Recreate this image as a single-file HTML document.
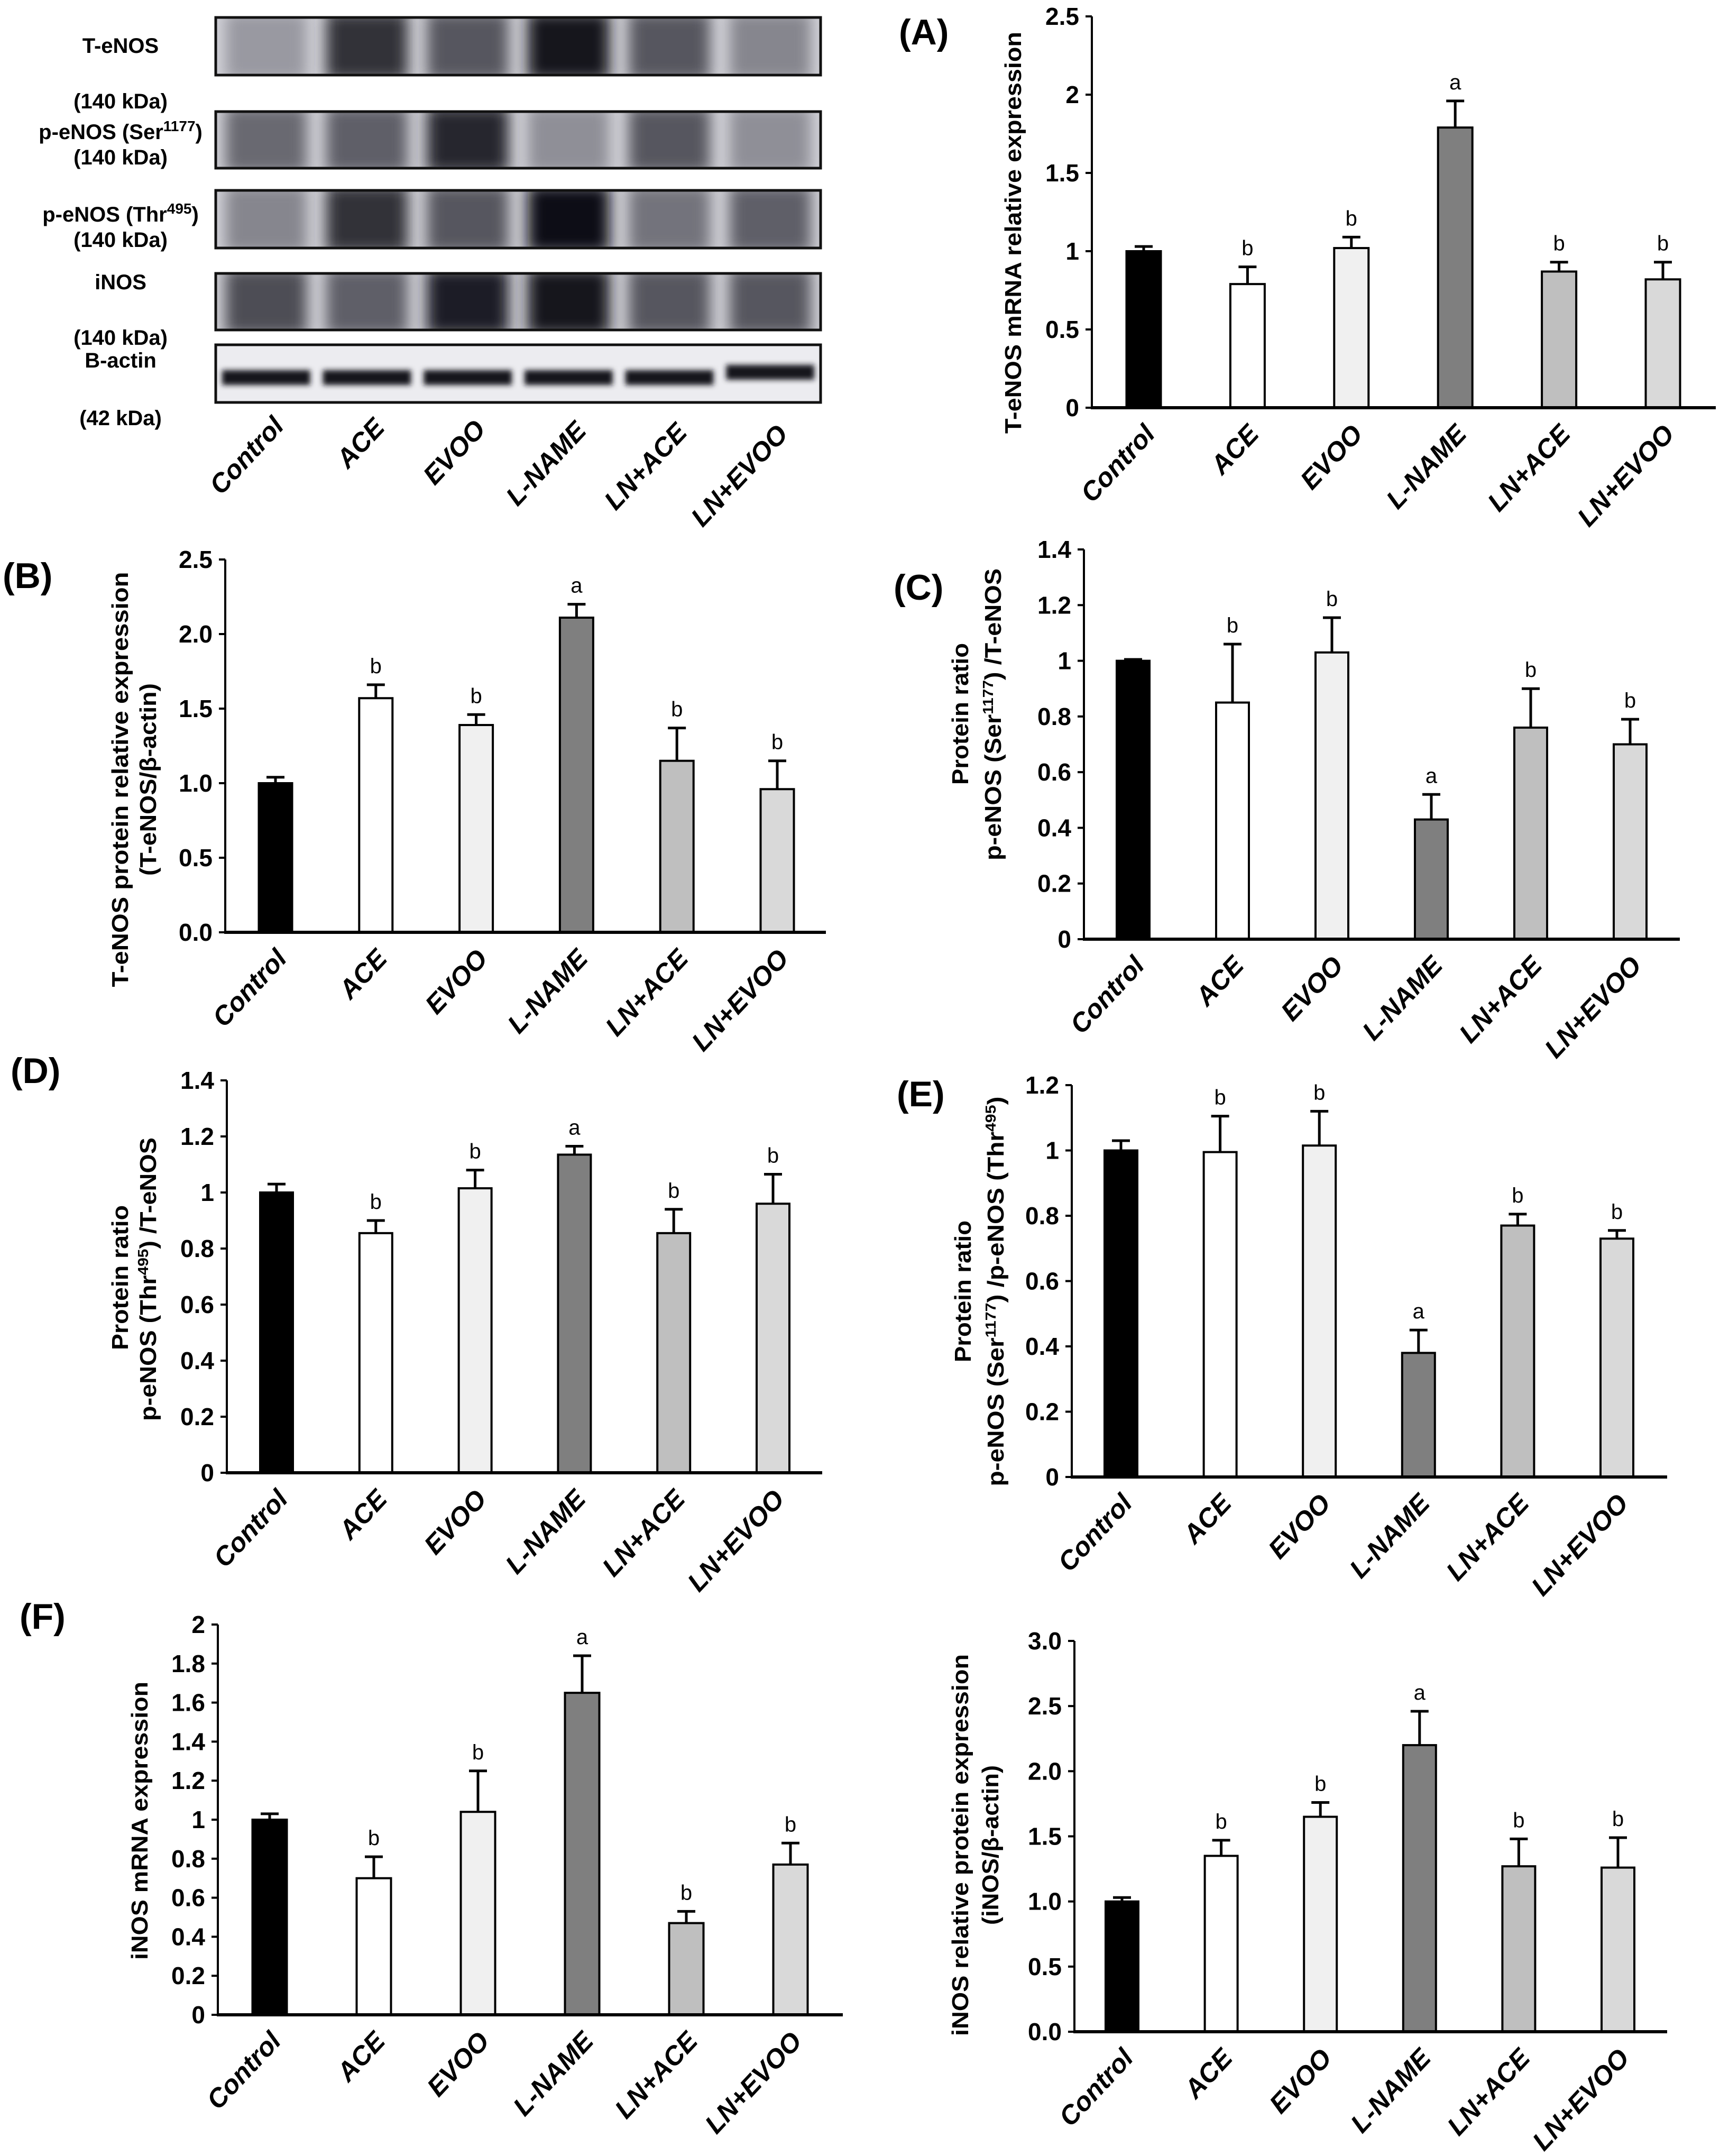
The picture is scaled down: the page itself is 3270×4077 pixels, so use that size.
<!DOCTYPE html>
<html><head><meta charset="utf-8"><style>
html,body{margin:0;padding:0;background:#fff;}
svg{display:block;}
.tick{font-family:"Liberation Sans Narrow","Liberation Sans",sans-serif;font-weight:bold;font-size:46px;font-stretch:condensed;}
.xl{font-family:"Liberation Sans",sans-serif;font-weight:bold;font-style:italic;font-size:50px;}
.yt{font-family:"Liberation Sans",sans-serif;font-weight:bold;font-size:44px;}
.let{font-family:"Liberation Sans Narrow","Liberation Sans",sans-serif;font-size:40px;}
.pl{font-family:"Liberation Sans Narrow","Liberation Sans",sans-serif;font-weight:bold;font-size:68px;}
.wbl{font-family:"Liberation Sans Narrow","Liberation Sans",sans-serif;font-weight:bold;font-size:40px;}
</style></head><body>
<svg id="fig" xmlns="http://www.w3.org/2000/svg" width="3270" height="4077" viewBox="0 0 3270 4077">
<defs>
<filter id="blur" x="-20%" y="-20%" width="140%" height="140%"><feGaussianBlur stdDeviation="14"/></filter>
<filter id="blur2" x="-20%" y="-50%" width="140%" height="200%"><feGaussianBlur stdDeviation="5"/></filter>
</defs>
<g id="wb"></g>
<g id="charts"></g>
</svg>
<script>
const NS="http://www.w3.org/2000/svg";
const groups=["Control","ACE","EVOO","L-NAME","LN+ACE","LN+EVOO"];
const fills=["#000000","#ffffff","#f0f0f0","#7f7f7f","#bfbfbf","#d9d9d9"];

// Panel A: T-eNOS mRNA
const aVals=[1.0,0.79,1.02,1.79,0.87,0.82];
const aErr=[0.03,0.11,0.07,0.17,0.06,0.11];
const aLet=["","b","b","a","b","b"];
const aTicks=["0","0.5","1","1.5","2","2.5"];
// Panel B: T-eNOS protein
const bVals=[1.0,1.57,1.39,2.11,1.15,0.96];
const bErr=[0.04,0.09,0.07,0.09,0.22,0.19];
const bLet=["","b","b","a","b","b"];
const bTicks=["0.0","0.5","1.0","1.5","2.0","2.5"];
// Panel C: pSer/T-eNOS
const cVals=[1.0,0.85,1.03,0.43,0.76,0.70];
const cErr=[0.005,0.21,0.125,0.09,0.14,0.09];
const cLet=["","b","b","a","b","b"];
const cTicks=["0","0.2","0.4","0.6","0.8","1","1.2","1.4"];
// Panel D: pThr/T-eNOS
const dVals=[1.0,0.855,1.015,1.135,0.855,0.96];
const dErr=[0.03,0.045,0.065,0.03,0.085,0.105];
const dLet=["","b","b","a","b","b"];
const dTicks=["0","0.2","0.4","0.6","0.8","1","1.2","1.4"];
// Panel E: pSer/pThr
const eVals=[1.0,0.995,1.015,0.38,0.77,0.73];
const eErr=[0.03,0.11,0.105,0.07,0.035,0.025];
const eLet=["","b","b","a","b","b"];
const eTicks=["0","0.2","0.4","0.6","0.8","1","1.2"];
// Panel F: iNOS mRNA
const fVals=[1.0,0.70,1.04,1.65,0.47,0.77];
const fErr=[0.03,0.11,0.21,0.19,0.06,0.11];
const fLet=["","b","b","a","b","b"];
const fTicks=["0","0.2","0.4","0.6","0.8","1","1.2","1.4","1.6","1.8","2"];
// Panel G: iNOS protein
const gVals=[1.0,1.35,1.65,2.2,1.27,1.26];
const gErr=[0.03,0.12,0.11,0.26,0.21,0.23];
const gLet=["","b","b","a","b","b"];
const gTicks=["0.0","0.5","1.0","1.5","2.0","2.5","3.0"];

function el(tag,attrs,parent){const e=document.createElementNS(NS,tag);for(const k in attrs)e.setAttribute(k,attrs[k]);if(parent)parent.appendChild(e);return e;}

function chart(cfg){
  const root=document.getElementById("charts");
  const g=el("g",{},root);
  
  
  const yScale=v=>cfg.y0-(v/cfg.max)*(cfg.y0-cfg.ytop);
  const n=cfg.ticks.length;
  cfg.ticks.forEach((t,i)=>{
    const v=cfg.max*i/(n-1);const y=yScale(v);
    const tk=el("line",{x1:cfg.ax-12,x2:cfg.ax,y1:y,y2:y,stroke:"#000","stroke-width":4},g);
    
    
    const tl=el("text",{x:cfg.ax-24,y:y+16,"text-anchor":"end",class:"tick"},g);
    tl.textContent=t;
    
    
  });
  const ya=el("line",{x1:cfg.ax,x2:cfg.ax,y1:cfg.ytop,y2:cfg.y0,stroke:"#000","stroke-width":4},g);
  
  
  cfg.vals.forEach((v,i)=>{
    const cx=cfg.first+i*cfg.step;const yt=yScale(v);const ye=yScale(v+cfg.err[i]);
    const eb=el("path",{d:`M${cx} ${yt} V${ye} M${cx-17} ${ye} H${cx+17}`,stroke:"#000","stroke-width":5,fill:"none"},g);
    
    
    const r=el("rect",{x:cx-cfg.bw/2,y:yt,width:cfg.bw,height:cfg.y0-yt,fill:fills[i],stroke:"#000","stroke-width":4},g);
    
    
    if(cfg.lets[i]){
      const lt=el("text",{x:cx,y:ye-22,"text-anchor":"middle",class:"let"},g);
      lt.textContent=cfg.lets[i];
      
      
    }
    const xl=el("text",{x:0,y:0,"text-anchor":"end",class:"xl",transform:`translate(${cx+24},${cfg.y0+52}) rotate(-47)`},g);
    xl.textContent=groups[i];
    
    
  });
  const xa=el("line",{x1:cfg.ax-2,x2:cfg.xr,y1:cfg.y0,y2:cfg.y0,stroke:"#000","stroke-width":6},g);
  
  
  cfg.titles.forEach(t=>{
    const tx=el("text",{x:0,y:0,"text-anchor":"middle",class:"yt",textLength:t.len,lengthAdjust:"spacingAndGlyphs",transform:`translate(${t.x+16},${t.y}) rotate(-90)`},g);
    tx.innerHTML=t.html;
    
    
  });
  if(cfg.label){
    const pl=el("text",{x:cfg.label[0],y:cfg.label[1],class:"pl"},g);
    pl.textContent=cfg.label[2];
    
    
  }
}
const sup=s=>`<tspan baseline-shift="super" font-size="28">${s}</tspan>`;
chart({name:"chart-a",ax:2065,y0:771,ytop:31,xr:3245,max:2.5,first:2163,step:196.4,bw:65,vals:aVals,err:aErr,lets:aLet,ticks:aTicks,
 titles:[{x:1915,y:440,len:760,html:"T-eNOS mRNA relative expression"}],label:[1700,84,"(A)"]});
chart({name:"chart-b",ax:426,y0:1763,ytop:1058,xr:1562,max:2.5,first:521,step:189.8,bw:63,vals:bVals,err:bErr,lets:bLet,ticks:bTicks,
 titles:[{x:226,y:1474,len:785,html:"T-eNOS protein relative expression"},{x:279,y:1474,len:364,html:"(T-eNOS/β-actin)"}],label:[5,1112,"(B)"]});
chart({name:"chart-c",ax:2050,y0:1776,ytop:1039,xr:3177,max:1.4,first:2143,step:188,bw:62,vals:cVals,err:cErr,lets:cLet,ticks:cTicks,
 titles:[{x:1815,y:1350,len:268,html:"Protein ratio"},{x:1877,y:1351,len:552,html:"p-eNOS (Ser"+sup("1177")+") /T-eNOS"}],label:[1690,1134,"(C)"]});
chart({name:"chart-d",ax:429,y0:2785,ytop:2043,xr:1555,max:1.4,first:523,step:187.8,bw:62,vals:dVals,err:dErr,lets:dLet,ticks:dTicks,
 titles:[{x:226,y:2416,len:274,html:"Protein ratio"},{x:279,y:2419,len:536,html:"p-eNOS (Thr"+sup("495")+") /T-eNOS"}],label:[20,2048,"(D)"]});
chart({name:"chart-e",ax:2027,y0:2793,ytop:2052,xr:3153,max:1.2,first:2120,step:187.6,bw:62,vals:eVals,err:eErr,lets:eLet,ticks:eTicks,
 titles:[{x:1820,y:2442,len:268,html:"Protein ratio"},{x:1882,y:2442,len:737,html:"p-eNOS (Ser"+sup("1177")+") /p-eNOS (Thr"+sup("495")+")"}],label:[1696,2092,"(E)"]});
chart({name:"chart-f",ax:412,y0:3810,ytop:3072,xr:1594,max:2,first:510,step:197,bw:65,vals:fVals,err:fErr,lets:fLet,ticks:fTicks,
 titles:[{x:263,y:3443,len:526,html:"iNOS mRNA expression"}],label:[37,3080,"(F)"]});
chart({name:"chart-g",ax:2032,y0:3842,ytop:3103,xr:3153,max:3,first:2122,step:187.6,bw:62,vals:gVals,err:gErr,lets:gLet,ticks:gTicks,
 titles:[{x:1815,y:3489,len:722,html:"iNOS relative protein expression"},{x:1872,y:3489,len:302,html:"(iNOS/β-actin)"}]});

(function(){
  const wb=document.getElementById("wb");
  const boxes=[[33,142],[211,318],[360,469],[517,624],[652,761]];
  const dark=[[0.25,0.8,0.6,0.95,0.6,0.35],[0.5,0.55,0.85,0.3,0.6,0.3],[0.35,0.8,0.6,1.0,0.45,0.55],[0.65,0.55,0.9,0.95,0.6,0.6],[0,0,0,0,0,0]];
  const names=["t-enos-blot","p-enos-ser-blot","p-enos-thr-blot","inos-blot","b-actin-blot"];
  const x0=408,x1=1552,lw=(x1-x0)/6;
  boxes.forEach((b,r)=>{
    const g=el("g",{},wb);
    
    
    const cp=el("clipPath",{id:"cp"+r},g);
    el("rect",{x:x0,y:b[0],width:x1-x0,height:b[1]-b[0]},cp);
    const inner=el("g",{"clip-path":`url(#cp${r})`},g);
    el("rect",{x:x0,y:b[0],width:x1-x0,height:b[1]-b[0],fill:r==4?"#ececf0":"#d4d4da"},inner);
    if(r<4){
      dark[r].forEach((d,i)=>{
        const c=Math.round(200-d*190);
        el("rect",{x:x0+i*lw+18,y:b[0]-10,width:lw-36,height:b[1]-b[0]+20,fill:`rgb(${c},${c},${c+8})`,filter:"url(#blur)"},inner);
      });
    } else {
      for(let i=0;i<6;i++){
        el("rect",{x:x0+i*lw+12,y:b[0]+48-(i==5?10:0),width:lw-24,height:28,fill:"#15151c",filter:"url(#blur2)"},inner);
      }
    }
    el("rect",{x:x0,y:b[0],width:x1-x0,height:b[1]-b[0],fill:"none",stroke:"#111","stroke-width":5},g);
  });
  const labels=[["T-eNOS",100],["(140 kDa)",205],["p-eNOS (Ser"+sup("1177")+")",263],["(140 kDa)",311],["p-eNOS (Thr"+sup("495")+")",419],["(140 kDa)",467],["iNOS",547],["(140 kDa)",652],["B-actin",695],["(42 kDa)",804]];
  labels.forEach(l=>{
    const t=el("text",{x:228,y:l[1],"text-anchor":"middle",class:"wbl"},wb);
    t.innerHTML=l[0];
    
    
  });
  groups.forEach((gname,i)=>{
    const cx=x0+lw*(i+0.5);
    const t=el("text",{x:0,y:0,"text-anchor":"end",class:"xl",transform:`translate(${cx+36},${808+i*3}) rotate(-47)`},wb);
    t.textContent=gname;
    
    
  });
})();
</script>
</body></html>
